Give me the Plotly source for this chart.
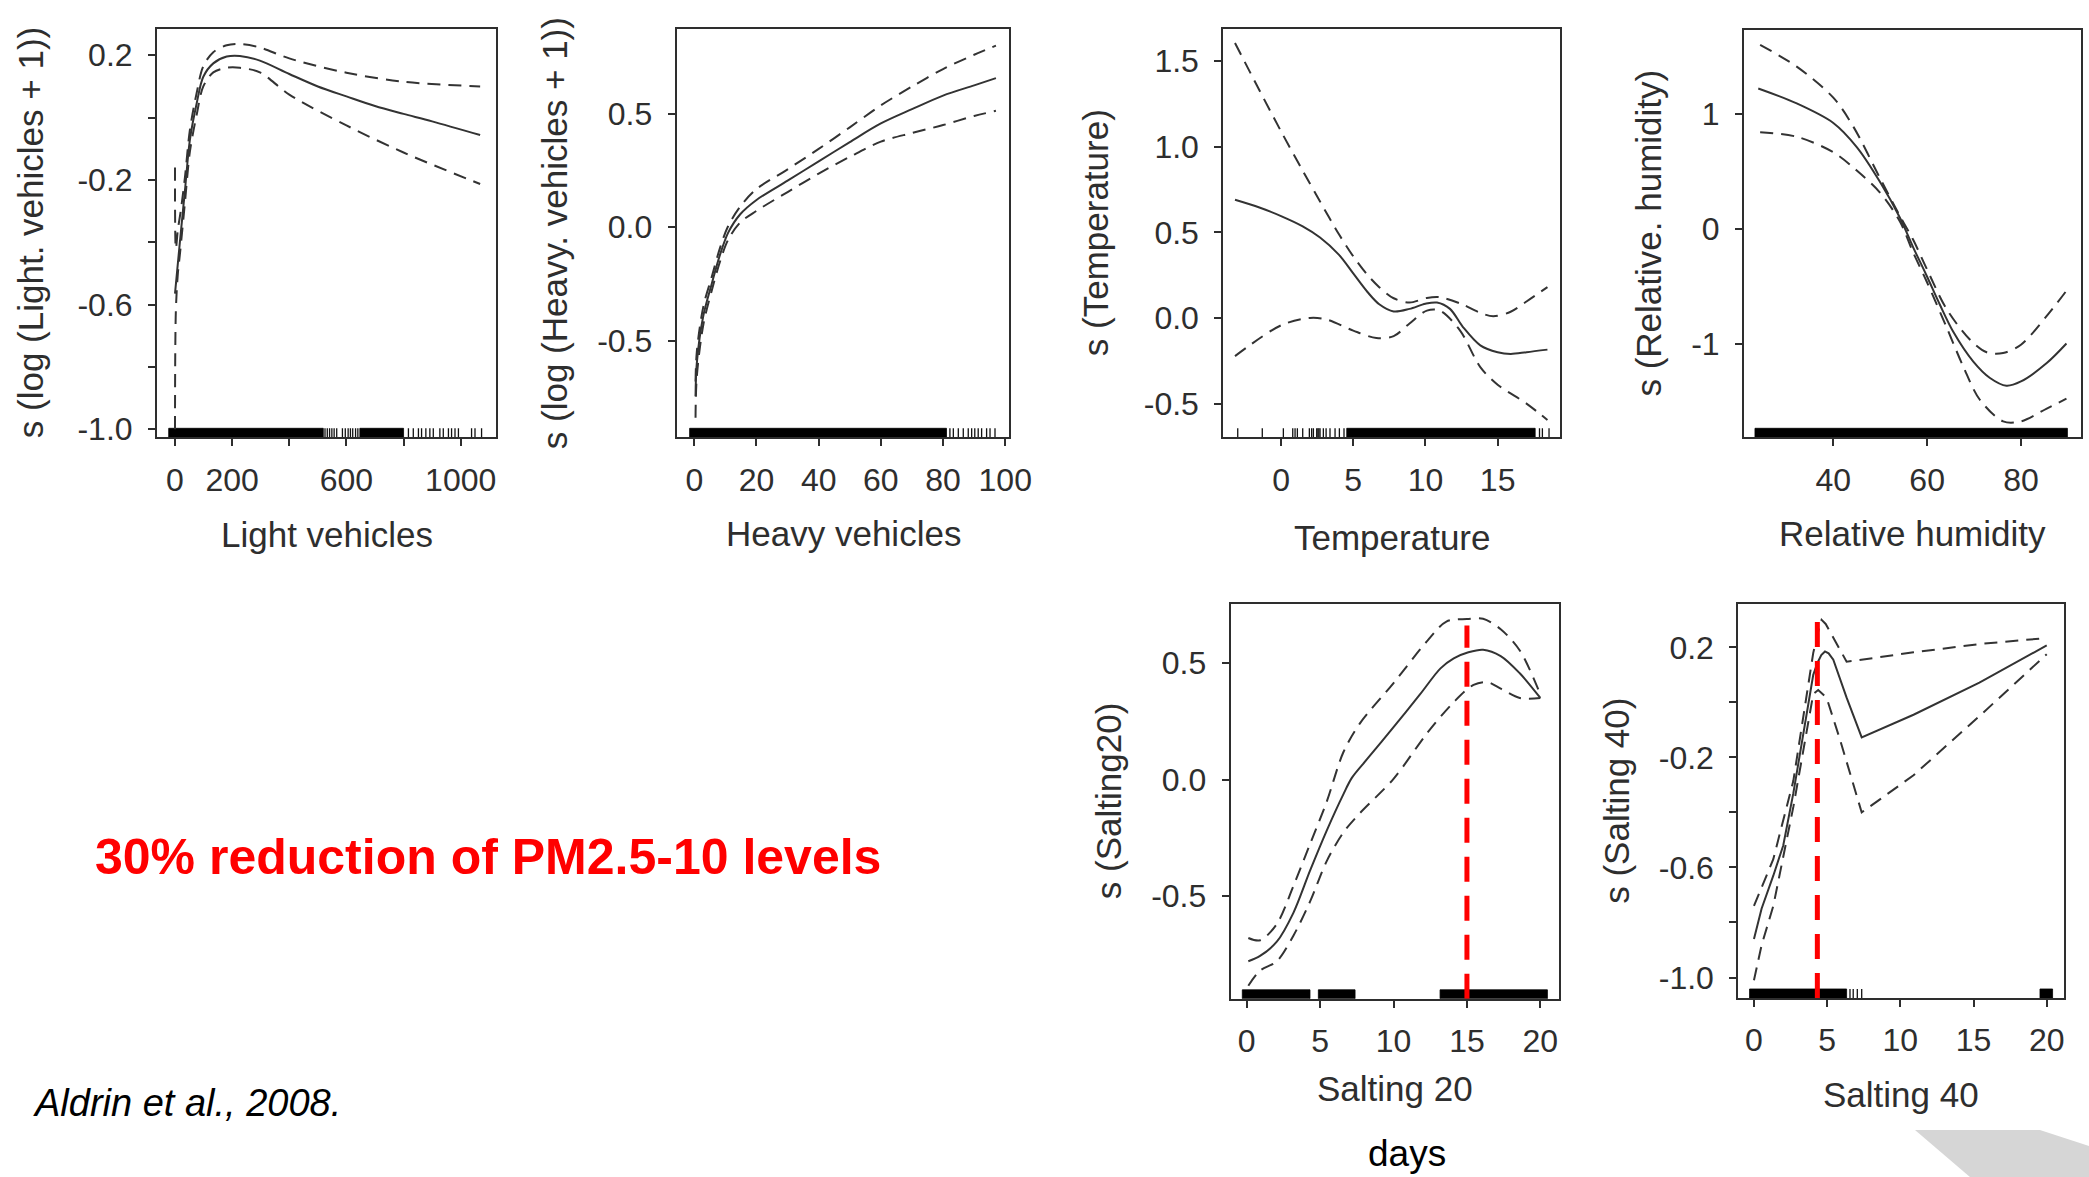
import plotly.graph_objects as go

W, H = 2089, 1177

# ---------------- smooth terms (fit, upper and lower bands) ----------------
light_x = [0, 17, 35, 52, 76, 99, 134, 181, 227, 297, 400, 500, 600, 700, 800, 900,
           1068]
light_fit = [-0.565, -0.40, -0.232, -0.072, 0.046, 0.131, 0.174, 0.196, 0.198,
             0.183, 0.14, 0.10, 0.068, 0.037, 0.012, -0.012, -0.056]
light_up_x = [0, 3, 10, 20, 35, 52, 76, 99, 134, 181, 227, 297, 400, 600, 800, 1068]
light_up = [-0.16, -0.42, -0.36, -0.30, -0.19, -0.04, 0.08, 0.165, 0.21, 0.232,
            0.236, 0.225, 0.19, 0.144, 0.115, 0.10]
light_lo_x = [0, 3, 10, 17, 35, 52, 76, 99, 134, 181, 227, 297, 400, 600, 800, 1068]
light_lo = [-1.0, -0.62, -0.5, -0.44, -0.27, -0.11, 0.01, 0.10, 0.145, 0.16, 0.16,
            0.145, 0.074, -0.025, -0.112, -0.213]

heavy_x = [0.4, 0.8, 2.9, 5.6, 8.3, 10.9, 14.7, 20, 30, 40, 50, 60, 70, 80, 90, 97]
heavy_fit = [-0.745, -0.60, -0.39, -0.25, -0.12, -0.024, 0.056, 0.12, 0.205, 0.29,
             0.375, 0.457, 0.52, 0.58, 0.625, 0.657]
heavy_up = [-0.68, -0.55, -0.35, -0.22, -0.09, 0.005, 0.09, 0.168, 0.255, 0.345,
            0.44, 0.537, 0.62, 0.697, 0.76, 0.80]
heavy_lo = [-0.84, -0.66, -0.43, -0.28, -0.15, -0.055, 0.02, 0.072, 0.155, 0.236,
            0.31, 0.377, 0.415, 0.45, 0.49, 0.513]

temp_x = [-3.19, -1.5, 0, 1.5, 2.7, 4.0, 5.0, 6.0, 6.8, 7.8, 8.9, 10.0, 10.8, 11.7,
          12.6, 13.8, 15.0, 15.9, 17.0, 18.45]
temp_fit = [0.69, 0.645, 0.595, 0.535, 0.47, 0.37, 0.26, 0.15, 0.08, 0.038, 0.053,
            0.083, 0.09, 0.053, -0.053, -0.16, -0.2, -0.21, -0.2, -0.185]
temp_up_x = [-3.19, -1.5, 0, 1.5, 2.7, 4.0, 5.0, 6.0, 6.8, 7.8, 8.9, 10.1, 11.0,
             12.4, 13.8, 14.7, 15.9, 17.0, 18.45]
temp_up = [1.606, 1.33, 1.09, 0.86, 0.68, 0.49, 0.36, 0.25, 0.18, 0.115, 0.09,
           0.117, 0.121, 0.085, 0.03, 0.01, 0.036, 0.096, 0.18]
temp_lo_x = [-3.19, 0, 2.0, 3.2, 5.0, 6.6, 7.8, 8.9, 10.1, 11.0, 12.4, 13.8, 15.0,
             17.0, 18.45]
temp_lo = [-0.223, -0.043, 0.0, -0.01, -0.074, -0.117, -0.106, -0.032, 0.043,
           0.043, -0.074, -0.287, -0.39, -0.5, -0.596]

rh_x = [24.0, 32.2, 40, 45, 49.9, 54.2, 57.0, 59.9, 62.7, 65.6, 69.8, 73.4, 76.9,
        80, 85.5, 89.7]
rh_fit = [1.22, 1.09, 0.92, 0.71, 0.41, 0.095, -0.16, -0.41, -0.66, -0.90, -1.155,
          -1.30, -1.367, -1.33, -1.17, -1.0]
rh_up_x = [24.4, 32.2, 40, 44.3, 49.9, 54.2, 57, 59.9, 64.1, 69.1, 72.7, 76.2, 80,
           85.5, 89.7]
rh_up = [1.6, 1.41, 1.14, 0.886, 0.443, 0.11, -0.095, -0.348, -0.696, -0.965,
         -1.076, -1.082, -1.01, -0.76, -0.54]
rh_lo_x = [24.4, 32.2, 40, 45, 49.9, 54.2, 57, 59.9, 64.1, 67.7, 71.2, 76.2, 80,
           85.5, 89.7]
rh_lo = [0.84, 0.80, 0.665, 0.506, 0.316, 0.063, -0.206, -0.46, -0.854, -1.2,
         -1.487, -1.677, -1.677, -1.566, -1.48]

s20_x = [0.11, 0.91, 2.05, 3.18, 4.32, 5.45, 6.59, 7.16, 8.18, 10, 11.8, 13.2,
         14.1, 15.1, 16.1, 17.3, 18.6, 20]
s20_fit = [-0.78, -0.757, -0.696, -0.572, -0.39, -0.219, -0.0625, 0.007, 0.086,
           0.225, 0.365, 0.477, 0.52, 0.546, 0.557, 0.53, 0.456, 0.35]
s20_up_x = [0.11, 0.91, 2.05, 3.18, 4.32, 5.45, 6.59, 7.7, 10, 12.3, 13.6, 15.0,
            16.1, 17.3, 18.6, 20]
s20_up = [-0.68, -0.69, -0.62, -0.457, -0.276, -0.095, 0.118, 0.24, 0.414, 0.595,
          0.678, 0.689, 0.69, 0.645, 0.554, 0.365]
s20_lo_x = [0.11, 0.91, 2.05, 3.18, 4.32, 5.45, 6.59, 7.7, 10, 12.3, 14.1, 15.45,
            16.4, 17.3, 18.6, 20]
s20_lo = [-0.885, -0.82, -0.78, -0.67, -0.523, -0.35, -0.227, -0.145, 0.003, 0.2,
          0.332, 0.406, 0.418, 0.39, 0.35, 0.35]

s40_x = [0, 0.52, 1.32, 2.0, 2.69, 3.37, 4.05, 4.35, 4.6, 4.85, 5.1, 5.42, 6.33,
         7.36, 10.9, 15.4, 20]
s40_fit = [-0.86, -0.75, -0.63, -0.52, -0.33, -0.11, 0.1, 0.145, 0.172, 0.185,
           0.178, 0.155, 0.017, -0.127, -0.045, 0.072, 0.207]
s40_up_x = [0, 1.32, 2.69, 4.05, 4.4, 4.62, 4.9, 5.42, 6.33, 7.0, 10.9, 15.4, 20]
s40_up = [-0.74, -0.57, -0.285, 0.18, 0.26, 0.3, 0.285, 0.237, 0.148, 0.152, 0.182,
          0.212, 0.234]
s40_lo_x = [0, 0.52, 1.32, 2.69, 4.05, 4.39, 4.96, 5.87, 7.36, 10.9, 15.4, 20]
s40_lo = [-1.01, -0.883, -0.74, -0.38, 0.03, 0.045, 0.017, -0.134, -0.4, -0.265,
          -0.05, 0.175]

# Day of the reduction marked on the salting panels (x, top of the line)
s20_cut = 15
s20_cut_top = 0.661
s40_cut = 4.33
s40_cut_top = 0.333

# ---------------- rug: dense stretches and single observations ----------------
light_rug_bands = [[-22, 519], [647, 800]]
light_rug_ticks = [525, 533, 541, 549, 557, 566, 586, 596, 606, 614, 622, 632, 640,
                   817, 834, 852, 863, 878, 892, 904, 927, 939, 957, 968, 980,
                   992, 1038, 1050, 1073]
heavy_rug_bands = [[-1.5, 81.1]]
heavy_rug_ticks = [82.2, 83.3, 84.9, 86.5, 88.1, 89.2, 90.2, 91.3, 92.4, 94.0,
                   95.1, 96.7]
temp_rug_bands = [[4.55, 17.6]]
temp_rug_ticks = [-3.0, -1.3, 0.16, 0.81, 0.97, 1.13, 1.5, 1.96, 2.12, 2.24, 2.47,
                  2.55, 2.62, 2.7, 2.93, 3.12, 3.39, 3.74, 4.04, 4.36, 17.9, 18.1,
                  18.56]
rh_rug_bands = [[23.3, 89.9]]
rh_rug_ticks = []
s20_rug_bands = [[-0.3, 4.31], [4.88, 7.38], [13.17, 20.48]]
s20_rug_ticks = []
s40_rug_bands = [[-0.3, 6.33], [19.54, 20.4]]
s40_rug_ticks = [6.56, 6.78, 7.06, 7.36]

# ---------------- axis ticks ----------------
light_xticks = [0, 200, 400, 600, 800, 1000]
light_xlabels = ["0", "200", "", "600", "", "1000"]
light_yticks = [0.2, 0, -0.2, -0.4, -0.6, -0.8, -1.0]
light_ylabels = ["0.2", "", "-0.2", "", "-0.6", "", "-1.0"]
heavy_xticks = [0, 20, 40, 60, 80, 100]
heavy_xlabels = ["0", "20", "40", "60", "80", "100"]
heavy_yticks = [0.5, 0, -0.5]
heavy_ylabels = ["0.5", "0.0", "-0.5"]
temp_xticks = [0, 5, 10, 15]
temp_xlabels = ["0", "5", "10", "15"]
temp_yticks = [1.5, 1.0, 0.5, 0, -0.5]
temp_ylabels = ["1.5", "1.0", "0.5", "0.0", "-0.5"]
rh_xticks = [40, 60, 80]
rh_xlabels = ["40", "60", "80"]
rh_yticks = [1, 0, -1]
rh_ylabels = ["1", "0", "-1"]
salt_xticks = [0, 5, 10, 15, 20]
salt_xlabels = ["0", "5", "10", "15", "20"]
s20_yticks = [0.5, 0, -0.5]
s20_ylabels = ["0.5", "0.0", "-0.5"]
s40_yticks = [0.2, 0, -0.2, -0.4, -0.6, -0.8, -1.0]
s40_ylabels = ["0.2", "", "-0.2", "", "-0.6", "", "-1.0"]

# ---------------- panel layout (pixel boxes and axis ranges) ----------------
panels = [
    dict(box=(157, 496, 29.1, 437.3), xr=(-63, 1123.5), yr=(-1.0257, 0.284),
         fit=(light_x, light_fit), up=(light_up_x, light_up), lo=(light_lo_x, light_lo),
         bands=light_rug_bands, ticks=light_rug_ticks,
         xt=(light_xticks, light_xlabels), yt=(light_yticks, light_ylabels),
         xtitle="Light vehicles", ytitle="s (log (Light. vehicles + 1))",
         xt_y=534, yt_x=30, shape="spline"),
    dict(box=(676.7, 1009.3, 29.1, 437.3), xr=(-5.66, 101.3), yr=(-0.926, 0.873),
         fit=(heavy_x, heavy_fit), up=(heavy_x, heavy_up), lo=(heavy_x, heavy_lo),
         bands=heavy_rug_bands, ticks=heavy_rug_ticks,
         xt=(heavy_xticks, heavy_xlabels), yt=(heavy_yticks, heavy_ylabels),
         xtitle="Heavy vehicles", ytitle="s (log (Heavy. vehicles + 1))",
         xt_y=533, yt_x=554, shape="spline"),
    dict(box=(1223.3, 1560, 29.1, 437.3), xr=(-4.0, 19.32), yr=(-0.697, 1.687),
         fit=(temp_x, temp_fit), up=(temp_up_x, temp_up), lo=(temp_lo_x, temp_lo),
         bands=temp_rug_bands, ticks=temp_rug_ticks,
         xt=(temp_xticks, temp_xlabels), yt=(temp_yticks, temp_ylabels),
         xtitle="Temperature", ytitle="s (Temperature)",
         xt_y=537, yt_x=1095, shape="spline"),
    dict(box=(1744, 2081, 29.8, 437.3), xr=(20.96, 92.8), yr=(-1.816, 1.731),
         fit=(rh_x, rh_fit), up=(rh_up_x, rh_up), lo=(rh_lo_x, rh_lo),
         bands=rh_rug_bands, ticks=rh_rug_ticks,
         xt=(rh_xticks, rh_xlabels), yt=(rh_yticks, rh_ylabels),
         xtitle="Relative humidity", ytitle="s (Relative. humidity)",
         xt_y=533, yt_x=1649, shape="spline"),
    dict(box=(1230.7, 1559, 603.6, 998.8), xr=(-1.09, 21.27), yr=(-0.941, 0.755),
         fit=(s20_x, s20_fit), up=(s20_up_x, s20_up), lo=(s20_lo_x, s20_lo),
         bands=s20_rug_bands, ticks=s20_rug_ticks,
         xt=(salt_xticks, salt_xlabels), yt=(s20_yticks, s20_ylabels),
         xtitle="Salting 20", ytitle="s (Salting20)",
         xt_y=1088.5, yt_x=1108, cut=(s20_cut, s20_cut_top), shape="spline"),
    dict(box=(1738.3, 2064, 603.6, 998.0), xr=(-1.07, 21.18), yr=(-1.0745, 0.359),
         fit=(s40_x, s40_fit), up=(s40_up_x, s40_up), lo=(s40_lo_x, s40_lo),
         bands=s40_rug_bands, ticks=s40_rug_ticks,
         xt=(salt_xticks, salt_xlabels), yt=(s40_yticks, s40_ylabels),
         xtitle="Salting 40", ytitle="s (Salting 40)",
         xt_y=1094, yt_x=1617, cut=(s40_cut, s40_cut_top), shape="linear"),
]

INK = "#2e2e2e"
FONT = "Liberation Sans, Arial, sans-serif"
TICK_SIZE = 32
TITLE_SIZE = 35
RUG_PX = 9

fig = go.Figure()
annotations = []

for i, p in enumerate(panels, start=1):
    xa = "x" if i == 1 else f"x{i}"
    ya = "y" if i == 1 else f"y{i}"
    left, right, top, bottom = p["box"]
    ymin, ymax = p["yr"]
    rug_h = (ymax - ymin) * RUG_PX / (bottom - top)
    shape = p["shape"]

    # rug bands
    for a, b in p["bands"]:
        fig.add_trace(go.Scatter(
            x=[a, b, b, a, a], y=[ymin, ymin, ymin + rug_h, ymin + rug_h, ymin],
            mode="lines", fill="toself", fillcolor="black",
            line=dict(width=0.8, color="black"),
            xaxis=xa, yaxis=ya, showlegend=False, hoverinfo="skip"))
    # single rug ticks
    if p["ticks"]:
        rx, ry = [], []
        for t in p["ticks"]:
            rx += [t, t, None]
            ry += [ymin, ymin + rug_h, None]
        fig.add_trace(go.Scatter(
            x=rx, y=ry, mode="lines", line=dict(width=1.3, color="#111"),
            xaxis=xa, yaxis=ya, showlegend=False, hoverinfo="skip"))

    # confidence bands
    for key in ("up", "lo"):
        bx, by = p[key]
        fig.add_trace(go.Scatter(
            x=bx, y=by, mode="lines",
            line=dict(color="#333", width=2, dash="13px,8px", shape=shape,
                      smoothing=0.9 if shape == "spline" else None),
            xaxis=xa, yaxis=ya, showlegend=False, hoverinfo="skip"))
    # fitted smooth
    fx, fy = p["fit"]
    fig.add_trace(go.Scatter(
        x=fx, y=fy, mode="lines",
        line=dict(color="#333", width=2, shape=shape,
                  smoothing=0.9 if shape == "spline" else None),
        xaxis=xa, yaxis=ya, showlegend=False, hoverinfo="skip"))

    # red cut-off line
    if "cut" in p:
        cx, ctop = p["cut"]
        fig.add_trace(go.Scatter(
            x=[cx, cx], y=[ymin, ctop], mode="lines",
            line=dict(color="#ff0000", width=5, dash="25px,14px"),
            xaxis=xa, yaxis=ya, showlegend=False, hoverinfo="skip"))

    axis_common = dict(
        showgrid=False, zeroline=False, showline=True, linecolor=INK,
        linewidth=2, mirror=True, ticks="outside", ticklen=7, tickwidth=1.6,
        tickcolor=INK, tickfont=dict(family=FONT, size=TICK_SIZE, color=INK),
        tickmode="array", automargin=False)
    fig.layout[("xaxis" if i == 1 else f"xaxis{i}")] = dict(
        axis_common, domain=[left / W, right / W], range=list(p["xr"]),
        anchor=ya, tickvals=p["xt"][0], ticktext=p["xt"][1],
        ticklabelstandoff=6)
    fig.layout[("yaxis" if i == 1 else f"yaxis{i}")] = dict(
        axis_common, domain=[1 - bottom / H, 1 - top / H], range=list(p["yr"]),
        anchor=xa, tickvals=p["yt"][0], ticktext=p["yt"][1],
        ticklabelstandoff=9)

    annotations.append(dict(
        text=p["xtitle"], x=(left + right) / 2 / W, y=1 - p["xt_y"] / H,
        xref="paper", yref="paper", xanchor="center", yanchor="middle",
        showarrow=False, font=dict(family=FONT, size=TITLE_SIZE, color=INK)))
    annotations.append(dict(
        text=p["ytitle"], x=p["yt_x"] / W, y=1 - (top + bottom) / 2 / H,
        xref="paper", yref="paper", xanchor="center", yanchor="middle",
        textangle=-90, showarrow=False,
        font=dict(family=FONT, size=TITLE_SIZE, color=INK)))

annotations += [
    dict(text="<b>30% reduction of PM2.5-10 levels</b>", x=93 / W, y=1 - 857 / H,
         xref="paper", yref="paper", xanchor="left", yanchor="middle",
         showarrow=False, font=dict(family=FONT, size=50, color="#ff0000")),
    dict(text="<i>Aldrin et al., 2008.</i>", x=31 / W, y=1 - 1103 / H,
         xref="paper", yref="paper", xanchor="left", yanchor="middle",
         showarrow=False, font=dict(family=FONT, size=38, color="black")),
    dict(text="days", x=1407 / W, y=1 - 1153 / H,
         xref="paper", yref="paper", xanchor="center", yanchor="middle",
         showarrow=False, font=dict(family=FONT, size=37, color="black")),
]

# halftone corner decoration
corner = [(1915, 1130), (2040, 1130), (2089, 1146), (2089, 1177), (1970, 1177)]
path = "M " + " L ".join(f"{x / W:.4f},{1 - y / H:.4f}" for x, y in corner) + " Z"

fig.update_layout(
    width=W, height=H, margin=dict(l=0, r=0, t=0, b=0, autoexpand=False),
    paper_bgcolor="white", plot_bgcolor="white",
    annotations=annotations,
    shapes=[dict(type="path", path=path, xref="paper", yref="paper",
                 fillcolor="#d6d6d6", line=dict(width=0), layer="below")],
)

fig.write_html(
    "out.html",
    config={"responsive": False},
    post_script="document.body.style.margin='0px';"
                "document.body.style.overflow='hidden';",
)
